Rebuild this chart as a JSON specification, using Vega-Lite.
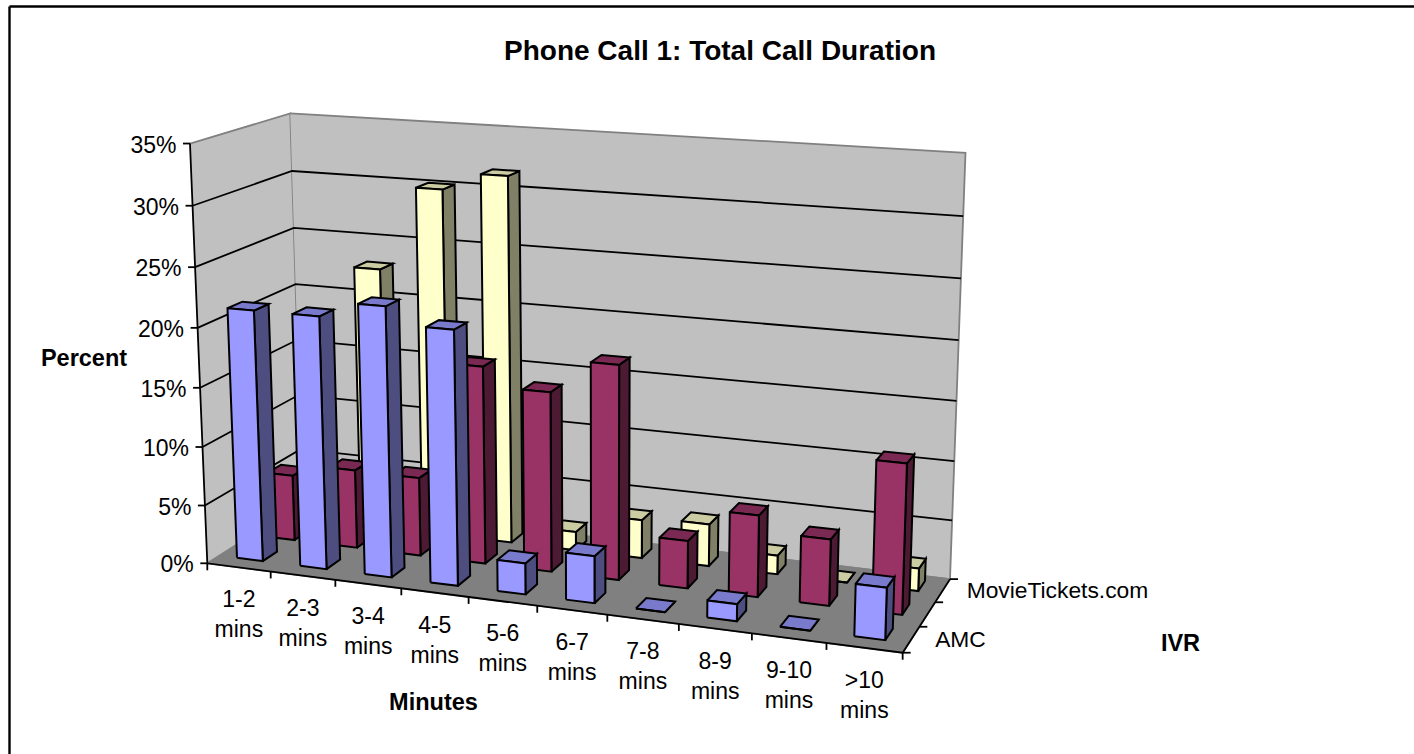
{
  "$schema": "https://vega.github.io/schema/vega-lite/v6.json",
  "width": 1405,
  "height": 748,
  "padding": {"left": 9, "top": 6, "right": 0, "bottom": 0},
  "autosize": {"type": "none"},
  "background": "white",
  "view": {"stroke": null},
  "config": {"font": "Liberation Sans", "text": {"font": "Liberation Sans"}},
  "title": {
    "text": "Phone Call 1: Total Call Duration",
    "font": "Liberation Sans",
    "fontSize": 28,
    "fontWeight": "bold",
    "color": "black",
    "anchor": "middle",
    "frame": "group",
    "baseline": "alphabetic",
    "dx": 8.5,
    "offset": -82
  },
  "datasets": {
    "calls": [
      {"ivr": "MovieTickets.com", "minutes": "1-2 mins", "percent": 3.5},
      {"ivr": "MovieTickets.com", "minutes": "2-3 mins", "percent": 22.8},
      {"ivr": "MovieTickets.com", "minutes": "3-4 mins", "percent": 30},
      {"ivr": "MovieTickets.com", "minutes": "4-5 mins", "percent": 31.5},
      {"ivr": "MovieTickets.com", "minutes": "5-6 mins", "percent": 1.6},
      {"ivr": "MovieTickets.com", "minutes": "6-7 mins", "percent": 3.3},
      {"ivr": "MovieTickets.com", "minutes": "7-8 mins", "percent": 3.6},
      {"ivr": "MovieTickets.com", "minutes": "8-9 mins", "percent": 1.6},
      {"ivr": "MovieTickets.com", "minutes": "9-10 mins", "percent": 0},
      {"ivr": "MovieTickets.com", "minutes": ">10 mins", "percent": 1.9},
      {"ivr": "Unlabelled", "minutes": "1-2 mins", "percent": 5.7},
      {"ivr": "Unlabelled", "minutes": "2-3 mins", "percent": 6.8},
      {"ivr": "Unlabelled", "minutes": "3-4 mins", "percent": 6.75},
      {"ivr": "Unlabelled", "minutes": "4-5 mins", "percent": 16.8},
      {"ivr": "Unlabelled", "minutes": "5-6 mins", "percent": 15.2},
      {"ivr": "Unlabelled", "minutes": "6-7 mins", "percent": 18},
      {"ivr": "Unlabelled", "minutes": "7-8 mins", "percent": 4},
      {"ivr": "Unlabelled", "minutes": "8-9 mins", "percent": 6.8},
      {"ivr": "Unlabelled", "minutes": "9-10 mins", "percent": 5.5},
      {"ivr": "Unlabelled", "minutes": ">10 mins", "percent": 12.3},
      {"ivr": "AMC", "minutes": "1-2 mins", "percent": 21.3},
      {"ivr": "AMC", "minutes": "2-3 mins", "percent": 21.3},
      {"ivr": "AMC", "minutes": "3-4 mins", "percent": 22.6},
      {"ivr": "AMC", "minutes": "4-5 mins", "percent": 21.2},
      {"ivr": "AMC", "minutes": "5-6 mins", "percent": 2.6},
      {"ivr": "AMC", "minutes": "6-7 mins", "percent": 3.9},
      {"ivr": "AMC", "minutes": "7-8 mins", "percent": 0},
      {"ivr": "AMC", "minutes": "8-9 mins", "percent": 1.4},
      {"ivr": "AMC", "minutes": "9-10 mins", "percent": 0},
      {"ivr": "AMC", "minutes": ">10 mins", "percent": 4.2}
    ],
    "planes": [
      {"plane": "left", "corner": 0, "u": 0, "v": 0, "h": 0},
      {"plane": "left", "corner": 1, "u": 0, "v": 1, "h": 0},
      {"plane": "left", "corner": 2, "u": 0, "v": 1, "h": 35},
      {"plane": "left", "corner": 3, "u": 0, "v": 0, "h": 35},
      {"plane": "back", "corner": 0, "u": 0, "v": 1, "h": 0},
      {"plane": "back", "corner": 1, "u": 1, "v": 1, "h": 0},
      {"plane": "back", "corner": 2, "u": 1, "v": 1, "h": 35},
      {"plane": "back", "corner": 3, "u": 0, "v": 1, "h": 35},
      {"plane": "floor", "corner": 0, "u": 0, "v": 0, "h": 0},
      {"plane": "floor", "corner": 1, "u": 1, "v": 0, "h": 0},
      {"plane": "floor", "corner": 2, "u": 1, "v": 1, "h": 0},
      {"plane": "floor", "corner": 3, "u": 0, "v": 1, "h": 0}
    ],
    "gridlines": [
      {"percent": 5, "corner": 0, "u": 0, "v": 0},
      {"percent": 5, "corner": 1, "u": 0, "v": 1},
      {"percent": 5, "corner": 2, "u": 1, "v": 1},
      {"percent": 10, "corner": 0, "u": 0, "v": 0},
      {"percent": 10, "corner": 1, "u": 0, "v": 1},
      {"percent": 10, "corner": 2, "u": 1, "v": 1},
      {"percent": 15, "corner": 0, "u": 0, "v": 0},
      {"percent": 15, "corner": 1, "u": 0, "v": 1},
      {"percent": 15, "corner": 2, "u": 1, "v": 1},
      {"percent": 20, "corner": 0, "u": 0, "v": 0},
      {"percent": 20, "corner": 1, "u": 0, "v": 1},
      {"percent": 20, "corner": 2, "u": 1, "v": 1},
      {"percent": 25, "corner": 0, "u": 0, "v": 0},
      {"percent": 25, "corner": 1, "u": 0, "v": 1},
      {"percent": 25, "corner": 2, "u": 1, "v": 1},
      {"percent": 30, "corner": 0, "u": 0, "v": 0},
      {"percent": 30, "corner": 1, "u": 0, "v": 1},
      {"percent": 30, "corner": 2, "u": 1, "v": 1}
    ],
    "edges": [
      {"edge": "height", "corner": 0, "u": 0, "v": 0, "h": 35},
      {"edge": "height", "corner": 1, "u": 0, "v": 0, "h": 0},
      {"edge": "height", "corner": 2, "u": 1, "v": 0, "h": 0},
      {"edge": "height", "corner": 3, "u": 1, "v": 1, "h": 0}
    ],
    "percentTicks": [
      {"percent": 0}, {"percent": 5}, {"percent": 10}, {"percent": 15},
      {"percent": 20}, {"percent": 25}, {"percent": 30}, {"percent": 35}
    ],
    "minuteBins": [
      {"index": 0, "minutes": "1-2 mins"},
      {"index": 1, "minutes": "2-3 mins"},
      {"index": 2, "minutes": "3-4 mins"},
      {"index": 3, "minutes": "4-5 mins"},
      {"index": 4, "minutes": "5-6 mins"},
      {"index": 5, "minutes": "6-7 mins"},
      {"index": 6, "minutes": "7-8 mins"},
      {"index": 7, "minutes": "8-9 mins"},
      {"index": 8, "minutes": "9-10 mins"},
      {"index": 9, "minutes": ">10 mins"},
      {"index": 10, "minutes": ""}
    ],
    "rows": [
      {"index": 0, "ivr": "AMC"},
      {"index": 1, "ivr": ""},
      {"index": 2, "ivr": "MovieTickets.com"},
      {"index": 3, "ivr": ""}
    ]
  },
  "resolve": {"axis": {"y": "independent"}, "scale": {"fill": "independent"}},
  "encoding": {
    "x": {
      "field": "px", "type": "quantitative",
      "scale": {"domain": [9, 1414], "nice": false, "zero": false},
      "axis": {
        "orient": "top", "title": "Minutes", "labels": false, "ticks": false, "grid": false,
        "domainColor": "black", "domainWidth": 2.4,
        "titleFont": "Liberation Sans", "titleFontSize": 23.5, "titleFontWeight": "bold", "titleColor": "black",
        "titleX": 424, "titleY": 703, "titleAlign": "center", "titleBaseline": "alphabetic"
      }
    }
  },
  "layer": [
    {
      "description": "Back wall, side wall and floor of the chart box",
      "data": {"name": "planes"},
      "transform": [
        {"calculate": "datum.h / 35", "as": "z"},
        {"calculate": "1 - 0.097 * datum.u + 0.0808 * datum.v - 0.042 * datum.z", "as": "w"},
        {"calculate": "(207.3 + 607.8 * datum.u + 119.5 * datum.v - 25.3 * datum.z) / datum.w", "as": "px"},
        {"calculate": "(563.3 + 26.1 * datum.u - 19.66 * datum.v - 425.8 * datum.z) / datum.w", "as": "py"}
      ],
      "mark": {"type": "line", "stroke": "#808080", "strokeWidth": 1.8, "strokeJoin": "miter", "clip": false},
      "encoding": {
        "y": {
          "field": "py", "type": "quantitative",
          "scale": {"domain": [754, 6], "nice": false, "zero": false},
          "axis": {
            "orient": "left", "title": "Percent", "labels": false, "ticks": false, "grid": false,
            "domainColor": "black", "domainWidth": 2.4,
            "titleFont": "Liberation Sans", "titleFontSize": 23.5, "titleFontWeight": "bold", "titleColor": "black",
            "titleAngle": 0, "titleX": 74.5, "titleY": 359, "titleAlign": "center", "titleBaseline": "alphabetic"
          }
        },
        "order": {"field": "corner", "type": "ordinal"},
        "detail": {"field": "plane"},
        "fill": {
          "field": "plane", "type": "nominal", "legend": null,
          "scale": {"domain": ["left", "back", "floor"], "range": ["#C0C0C0", "#C0C0C0", "#808080"]}
        }
      }
    },
    {
      "description": "Percent gridlines running along the side wall and the back wall",
      "data": {"name": "gridlines"},
      "transform": [
        {"calculate": "datum.percent / 35", "as": "z"},
        {"calculate": "1 - 0.097 * datum.u + 0.0808 * datum.v - 0.042 * datum.z", "as": "w"},
        {"calculate": "(207.3 + 607.8 * datum.u + 119.5 * datum.v - 25.3 * datum.z) / datum.w", "as": "px"},
        {"calculate": "(563.3 + 26.1 * datum.u - 19.66 * datum.v - 425.8 * datum.z) / datum.w", "as": "py"}
      ],
      "mark": {"type": "line", "stroke": "black", "strokeWidth": 1.8, "strokeJoin": "miter"},
      "encoding": {
        "y": {"field": "py", "type": "quantitative", "axis": null},
        "order": {"field": "corner", "type": "ordinal"},
        "detail": {"field": "percent"}
      }
    },
    {
      "description": "Bars as three visible faces, drawn from the rearmost row forward",
      "data": {"name": "calls"},
      "transform": [
        {"calculate": "indexof(['1-2 mins','2-3 mins','3-4 mins','4-5 mins','5-6 mins','6-7 mins','7-8 mins','8-9 mins','9-10 mins','>10 mins'], datum.minutes)", "as": "i"},
        {"calculate": "indexof(['AMC','Unlabelled','MovieTickets.com'], datum.ivr)", "as": "j"},
        {"calculate": "[{f:'side',k:0,a:1,b:0,c:0},{f:'side',k:1,a:1,b:1,c:0},{f:'side',k:2,a:1,b:1,c:1},{f:'side',k:3,a:1,b:0,c:1},{f:'side',k:4,a:1,b:0,c:0},{f:'top',k:0,a:0,b:0,c:1},{f:'top',k:1,a:1,b:0,c:1},{f:'top',k:2,a:1,b:1,c:1},{f:'top',k:3,a:0,b:1,c:1},{f:'top',k:4,a:0,b:0,c:1},{f:'front',k:0,a:0,b:0,c:0},{f:'front',k:1,a:1,b:0,c:0},{f:'front',k:2,a:1,b:0,c:1},{f:'front',k:3,a:0,b:0,c:1},{f:'front',k:4,a:0,b:0,c:0}]", "as": "vertex"},
        {"flatten": ["vertex"]},
        {"calculate": "(datum.i + 0.28 + 0.41 * datum.vertex.a) / 10", "as": "u"},
        {"calculate": "(datum.j + 0.36 + 0.44 * datum.vertex.b) / 3", "as": "v"},
        {"calculate": "datum.percent / 35 * datum.vertex.c", "as": "z"},
        {"calculate": "datum.vertex.k", "as": "k"},
        {"calculate": "datum.j + ' ' + datum.vertex.f", "as": "shade"},
        {"calculate": "datum.j + '/' + datum.i + '/' + datum.vertex.f", "as": "faceKey"},
        {"calculate": "1 - 0.097 * datum.u + 0.0808 * datum.v - 0.042 * datum.z", "as": "w"},
        {"calculate": "(207.3 + 607.8 * datum.u + 119.5 * datum.v - 25.3 * datum.z) / datum.w", "as": "px"},
        {"calculate": "(563.3 + 26.1 * datum.u - 19.66 * datum.v - 425.8 * datum.z) / datum.w", "as": "py"}
      ],
      "mark": {"type": "line", "stroke": "black", "strokeWidth": 2, "strokeJoin": "miter"},
      "encoding": {
        "y": {"field": "py", "type": "quantitative", "axis": null},
        "order": {"field": "k", "type": "ordinal"},
        "detail": {"field": "faceKey"},
        "fill": {
          "field": "shade", "type": "nominal", "legend": null,
          "scale": {
            "domain": ["0 front", "0 top", "0 side", "1 front", "1 top", "1 side", "2 front", "2 top", "2 side"],
            "range": ["#9999FF", "#7A7ACC", "#4D4D80", "#993366", "#7A2952", "#4D1A33", "#FFFFCC", "#CCCCA3", "#808066"]
          }
        }
      }
    },
    {
      "description": "Black edges of the height axis and floor",
      "data": {"name": "edges"},
      "transform": [
        {"calculate": "datum.h / 35", "as": "z"},
        {"calculate": "1 - 0.097 * datum.u + 0.0808 * datum.v - 0.042 * datum.z", "as": "w"},
        {"calculate": "(207.3 + 607.8 * datum.u + 119.5 * datum.v - 25.3 * datum.z) / datum.w", "as": "px"},
        {"calculate": "(563.3 + 26.1 * datum.u - 19.66 * datum.v - 425.8 * datum.z) / datum.w", "as": "py"}
      ],
      "mark": {"type": "line", "stroke": "black", "strokeWidth": 1.8, "strokeJoin": "miter"},
      "encoding": {
        "y": {"field": "py", "type": "quantitative", "axis": null},
        "order": {"field": "corner", "type": "ordinal"}
      }
    },
    {
      "description": "Percent ticks",
      "data": {"name": "percentTicks"},
      "transform": [
        {"calculate": "datum.percent / 35", "as": "z"},
        {"calculate": "1 - 0.042 * datum.z", "as": "w"},
        {"calculate": "(207.3 - 25.3 * datum.z) / datum.w", "as": "px"},
        {"calculate": "(563.3 - 425.8 * datum.z) / datum.w", "as": "py"},
        {"calculate": "datum.px - 7", "as": "tickEnd"}
      ],
      "mark": {"type": "rule", "stroke": "black", "strokeWidth": 1.8},
      "encoding": {
        "x2": {"field": "tickEnd"},
        "y": {"field": "py", "type": "quantitative", "axis": null}
      }
    },
    {
      "description": "Percent labels beside the height axis",
      "data": {"name": "percentTicks"},
      "transform": [
        {"calculate": "datum.percent / 35", "as": "z"},
        {"calculate": "1 - 0.042 * datum.z", "as": "w"},
        {"calculate": "(207.3 - 25.3 * datum.z) / datum.w", "as": "px"},
        {"calculate": "(563.3 - 425.8 * datum.z) / datum.w", "as": "py"},
        {"calculate": "datum.percent + '%'", "as": "label"}
      ],
      "mark": {"type": "text", "font": "Liberation Sans", "fontSize": 23, "align": "right", "baseline": "middle", "dx": -13.5, "dy": 2, "color": "black"},
      "encoding": {
        "y": {"field": "py", "type": "quantitative", "axis": null},
        "text": {"field": "label"}
      }
    },
    {
      "description": "Ticks between the minute bins, hanging from the front floor edge",
      "data": {"name": "minuteBins"},
      "transform": [
        {"calculate": "datum.index / 10", "as": "u"},
        {"calculate": "1 - 0.097 * datum.u", "as": "w"},
        {"calculate": "(207.3 + 607.8 * datum.u) / datum.w", "as": "px"},
        {"calculate": "(563.3 + 26.1 * datum.u) / datum.w", "as": "py"},
        {"calculate": "datum.py + 7", "as": "tickEnd"}
      ],
      "mark": {"type": "rule", "stroke": "black", "strokeWidth": 1.8},
      "encoding": {
        "y": {"field": "py", "type": "quantitative", "axis": null},
        "y2": {"field": "tickEnd"}
      }
    },
    {
      "description": "Minute bin labels under the front floor edge",
      "data": {"name": "minuteBins"},
      "transform": [
        {"filter": "datum.index < 10"},
        {"calculate": "(datum.index + 0.5) / 10", "as": "u"},
        {"calculate": "1 - 0.097 * datum.u", "as": "w"},
        {"calculate": "(207.3 + 607.8 * datum.u) / datum.w", "as": "px"},
        {"calculate": "(563.3 + 26.1 * datum.u) / datum.w", "as": "py"},
        {"calculate": "replace(datum.minutes, ' ', '\\n')", "as": "label"}
      ],
      "mark": {"type": "text", "font": "Liberation Sans", "fontSize": 23, "align": "center", "baseline": "alphabetic", "lineBreak": "\n", "lineHeight": 30, "dy": 40, "color": "black"},
      "encoding": {
        "y": {"field": "py", "type": "quantitative", "axis": null},
        "text": {"field": "label"}
      }
    },
    {
      "description": "Ticks between the IVR rows, along the right floor edge",
      "data": {"name": "rows"},
      "transform": [
        {"calculate": "datum.index / 3", "as": "v"},
        {"calculate": "0.903 + 0.0808 * datum.v", "as": "w"},
        {"calculate": "(815.1 + 119.5 * datum.v) / datum.w", "as": "px"},
        {"calculate": "(589.4 - 19.66 * datum.v) / datum.w", "as": "py"},
        {"calculate": "datum.px + 8", "as": "tickEnd"}
      ],
      "mark": {"type": "rule", "stroke": "black", "strokeWidth": 1.8},
      "encoding": {
        "x2": {"field": "tickEnd"},
        "y": {"field": "py", "type": "quantitative", "axis": null}
      }
    },
    {
      "description": "IVR row labels; the middle row carries no label",
      "data": {"name": "rows"},
      "transform": [
        {"filter": "datum.ivr != ''"},
        {"calculate": "(datum.index + 0.5) / 3", "as": "v"},
        {"calculate": "0.903 + 0.0808 * datum.v", "as": "w"},
        {"calculate": "(815.1 + 119.5 * datum.v) / datum.w", "as": "px"},
        {"calculate": "(589.4 - 19.66 * datum.v) / datum.w", "as": "py"}
      ],
      "mark": {"type": "text", "font": "Liberation Sans", "fontSize": 22.8, "align": "left", "baseline": "alphabetic", "dx": 24, "dy": 7, "color": "black"},
      "encoding": {
        "y": {
          "field": "py", "type": "quantitative",
          "axis": {
            "orient": "right", "title": "IVR", "labels": false, "ticks": false, "grid": false, "domain": false,
            "titleFont": "Liberation Sans", "titleFontSize": 23.5, "titleFontWeight": "bold", "titleColor": "black",
            "titleAngle": 0, "titleX": -234, "titleY": 644, "titleAlign": "center", "titleBaseline": "alphabetic"
          }
        },
        "text": {"field": "ivr"}
      }
    }
  ]
}
